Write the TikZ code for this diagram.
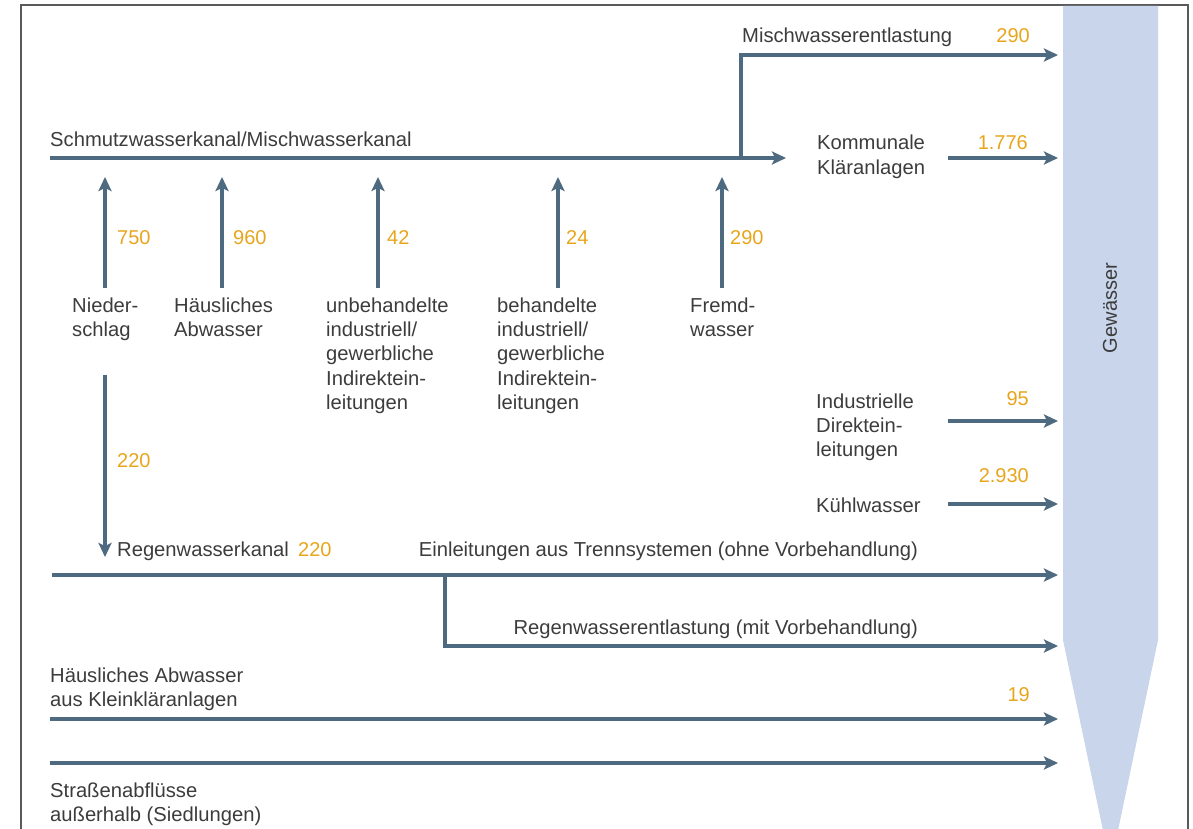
\documentclass[tikz,border=0pt]{standalone}
\usepackage{fontspec}
\setmainfont{Liberation Sans}
\usetikzlibrary{arrows.meta}
\definecolor{flow}{HTML}{4D6A80}
\definecolor{num}{HTML}{E8A51C}
\definecolor{txt}{HTML}{3C3C3C}
\definecolor{water}{HTML}{C8D5EA}
\definecolor{frame}{HTML}{5A5A5A}
\tikzset{
  flowline/.style={draw=flow, line width=3.2pt},
  flowarrow/.style={flowline, -{Stealth[length=14pt,width=13pt,inset=3pt]}},
  lbl/.style={inner sep=0pt, anchor=base west, text=txt, align=left,
    font=\fontsize{20.2}{24.4}\selectfont},
  lblr/.style={lbl, anchor=base east, align=right},
  val/.style={inner sep=0pt, anchor=base west, text=num,
    font=\fontsize{20}{24.4}\selectfont},
  valr/.style={val, anchor=base east},
}
\begin{document}
\begin{tikzpicture}[x=1pt,y=-1pt]
\useasboundingbox (0,0) rectangle (1193,829);
% frame
\draw[frame, line width=1.5pt] (21,829) -- (21,5) -- (1188,5) -- (1188,829);
% water band
\begin{scope}
\clip (0,0) rectangle (1193,829);
\fill[water] (1063,6) -- (1158,6) -- (1158,640) -- (1110.5,866) -- (1063,640) -- cycle;
\end{scope}
\node[rotate=90, inner sep=0pt, text=txt, font=\fontsize{20}{24}\selectfont] (gew) at (1110,308) {Gewässer};

% coordinates
\coordinate (mainL) at (50,158);
\coordinate (mainR) at (786,158);
\coordinate (split) at (741,158);
\coordinate (mixC) at (741,55);
\coordinate (mixR) at (1058,55);
\coordinate (komL) at (948,158);
\coordinate (komR) at (1058,158);
\coordinate (indL) at (948,421);
\coordinate (indR) at (1058,421);
\coordinate (kuhL) at (948,504);
\coordinate (kuhR) at (1058,504);
\coordinate (regL) at (52,575);
\coordinate (regR) at (1058,575);
\coordinate (regS) at (445,575);
\coordinate (regC) at (445,646);
\coordinate (regR2) at (1058,646);
\coordinate (kkL) at (50,719);
\coordinate (kkR) at (1058,719);
\coordinate (stL) at (50,763);
\coordinate (stR) at (1058,763);
\foreach \n/\x in {a/105,b/222,c/378,d/558,e/722}{
  \coordinate (up\n B) at (\x,288);
  \coordinate (up\n T) at (\x,177);
}
\coordinate (dnT) at (105,375);
\coordinate (dnB) at (105,557);

% connectors
\draw[flowarrow] (mainL) -- (mainR);
\draw[flowarrow] (split) -- (mixC) -- (mixR);
\draw[flowarrow] (komL) -- (komR);
\draw[flowarrow] (indL) -- (indR);
\draw[flowarrow] (kuhL) -- (kuhR);
\draw[flowarrow] (regL) -- (regR);
\draw[flowarrow] (regS) -- (regC) -- (regR2);
\draw[flowarrow] (kkL) -- (kkR);
\draw[flowarrow] (stL) -- (stR);
\foreach \n in {a,b,c,d,e}{
  \draw[flowarrow] (up\n B) -- (up\n T);
}
\draw[flowarrow] (dnT) -- (dnB);

% labels (multi-line nodes are placed at the baseline of their last line)
\node[lbl] (sch) at (50,147) {Schmutzwasserkanal/Mischwasserkanal};
\node[lbl] (mix) at (742,43) {Mischwasserentlastung};
\node[valr] (vmix) at (1030,43) {290};
\node[lbl] (kom) at (817,174.4) {Kommunale\\Kläranlagen};
\node[valr] (vkom) at (1028,150) {1.776};
\node[lbl] (nied) at (72,336.4) {Nieder-\\schlag};
\node[lbl] (haus) at (174,336.4) {Häusliches\\Abwasser};
\node[lbl] (unb) at (326,409.6) {unbehandelte\\industriell/\\gewerbliche\\Indirektein-\\leitungen};
\node[lbl] (beh) at (497,409.6) {behandelte\\industriell/\\gewerbliche\\Indirektein-\\leitungen};
\node[lbl] (fremd) at (690,336.4) {Fremd-\\wasser};
\node[val] (v750) at (117,244) {750};
\node[val] (v960) at (233,244) {960};
\node[val] (v42) at (387,244) {42};
\node[val] (v24) at (566,244) {24};
\node[val] (v290) at (730,244) {290};
\node[val] (v220a) at (117,467) {220};
\node[lbl] (ind) at (816,456.8) {Industrielle\\Direktein-\\leitungen};
\node[valr] (v95) at (1029,405) {95};
\node[valr] (v2930) at (1029,482) {2.930};
\node[lbl] (kuhl) at (816,512) {Kühlwasser};
\node[lbl] (regk) at (117,556) {Regenwasserkanal};
\node[val] (v220b) at (298,556) {220};
\node[lblr] (einl) at (918,556) {Einleitungen aus Trennsystemen (ohne Vorbehandlung)};
\node[lblr] (rent) at (918,634) {Regenwasserentlastung (mit Vorbehandlung)};
\node[lbl] (kk) at (50,706.4) {Häusliches Abwasser\\aus Kleinkläranlagen};
\node[valr] (v19) at (1030,701) {19};
\node[lbl] (str) at (50,821.4) {Straßenabflüsse\\außerhalb (Siedlungen)};
\end{tikzpicture}
\end{document}
